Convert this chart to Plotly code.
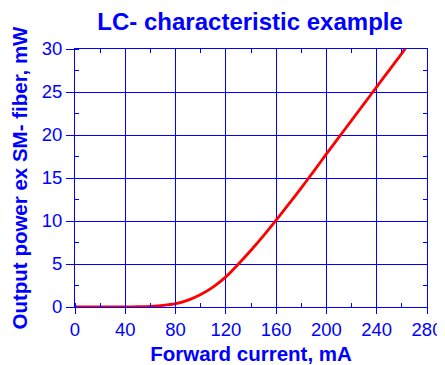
import plotly.graph_objects as go

current_mA = [0, 10, 20, 30, 40, 50, 60, 70, 80, 90, 100, 110, 120, 130, 140, 150,
              160, 170, 180, 190, 200, 210, 220, 230, 240, 250, 260, 263]
power_mW = [0, 0, 0, 0, 0.01, 0.03, 0.08, 0.18, 0.38, 0.8, 1.45, 2.35, 3.5, 5.0, 6.6, 8.3,
            10.1, 11.95, 13.85, 15.8, 17.8, 19.75, 21.7, 23.65, 25.6, 27.55, 29.5, 30.1]
x_ticks = [0, 40, 80, 120, 160, 200, 240, 280]
y_ticks = [0, 5, 10, 15, 20, 25, 30]

BLUE = "#0000ff"
RED = "#ff0000"
FONT = "Liberation Sans, Arial"

fig = go.Figure()
# invisible companion trace so the mirrored (top/right) axes get drawn
fig.add_trace(go.Scatter(x=current_mA, y=power_mW, mode="lines", xaxis="x2", yaxis="y2",
                         line=dict(color="rgba(0,0,0,0)", width=0),
                         hoverinfo="skip", showlegend=False))
fig.add_trace(go.Scatter(x=current_mA, y=power_mW, mode="lines",
                         line=dict(color=RED, width=2.8, shape="spline", smoothing=0.8),
                         showlegend=False))

axis_common = dict(
    showline=True, linecolor=BLUE, linewidth=1, mirror=True,
    showgrid=True, gridcolor=BLUE, gridwidth=1,
    ticks="outside", tickcolor=BLUE, tickwidth=1,
    tickfont=dict(family=FONT, size=18.5, color=BLUE),
    zeroline=False, automargin=False,
    minor=dict(ticks="inside", ticklen=4, tickcolor=BLUE, showgrid=False),
)
mirror_common = dict(
    showline=False, showgrid=False, zeroline=False, showticklabels=False,
    ticks="inside", ticklen=1, tickcolor=BLUE, automargin=False,
    minor=dict(ticks="inside", ticklen=4, tickcolor=BLUE, showgrid=False),
)

# page body has an 8px margin, so the figure is sized to fit the 445x365 window
fig.update_layout(
    width=437, height=357,
    margin=dict(l=67, r=18, t=41, b=58),
    paper_bgcolor="white", plot_bgcolor="white",
    title=dict(text="<b>LC- characteristic example</b>", x=0.554, xanchor="center",
               y=0.961, yanchor="middle",
               font=dict(family=FONT, size=24, color=BLUE)),
    xaxis=dict(range=[0, 280], tickvals=x_ticks, ticklen=6,
               title=dict(text="<b>Forward current, mA</b>", standoff=10,
                          font=dict(family=FONT, size=20.5, color=BLUE)),
               **axis_common),
    yaxis=dict(range=[0, 30], tickvals=y_ticks, ticklen=8,
               title=dict(text="<b>Output power ex SM- fiber, mW</b>", standoff=8,
                          font=dict(family=FONT, size=20.5, color=BLUE)),
               **axis_common),
    xaxis2=dict(range=[0, 280], tickvals=x_ticks, overlaying="x", side="top", **mirror_common),
    yaxis2=dict(range=[0, 30], tickvals=y_ticks, overlaying="y", side="right", **mirror_common),
)
fig.update_xaxes(minor_dtick=20)
fig.update_yaxes(minor_dtick=2.5)

fig.write_html("out.html")
